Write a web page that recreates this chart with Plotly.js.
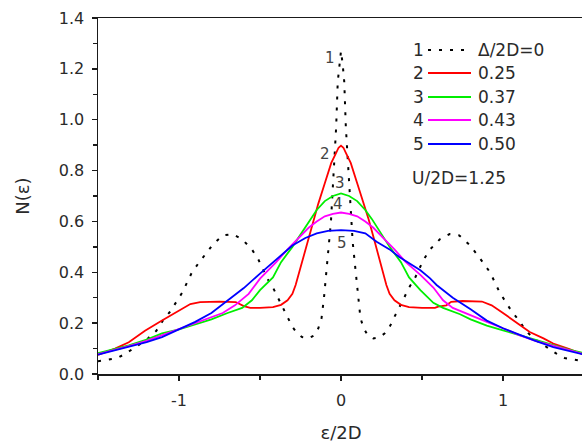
<!DOCTYPE html>
<html>
<head>
<meta charset="utf-8">
<script src="https://cdn.plot.ly/plotly-3.0.1.min.js"></script>
<style>
  html, body { margin: 0; padding: 0; overflow: hidden; background: #fff; }
  #chart { width: 586px; height: 445px; }
</style>
</head>
<body>
<div id="chart"></div>
<script>
// ---- Data ----
// Curve 1: Δ/2D = 0 (dotted black)
const x1 = [-1.5,-1.44,-1.38,-1.33,-1.27,-1.2,-1.14,-1.1,-1.055,-1.02,-0.98,-0.95,-0.92,-0.88,-0.84,-0.79,-0.73,-0.67,-0.61,-0.55,-0.51,-0.455,-0.42,-0.39,-0.36,-0.33,-0.3,-0.27,-0.24,-0.2,-0.165,-0.14,-0.12,-0.105,-0.095,-0.083,-0.072,-0.062,-0.05,-0.04,-0.03,-0.02,-0.01,0,
            0.01,0.02,0.03,0.04,0.05,0.062,0.072,0.083,0.095,0.105,0.12,0.14,0.165,0.2,0.24,0.27,0.3,0.33,0.36,0.39,0.42,0.455,0.51,0.55,0.61,0.67,0.73,0.79,0.84,0.88,0.92,0.95,0.98,1.02,1.055,1.1,1.14,1.2,1.27,1.33,1.38,1.44,1.5];
const y1 = [0.05,0.055,0.063,0.08,0.105,0.135,0.17,0.21,0.245,0.28,0.32,0.36,0.40,0.435,0.47,0.51,0.545,0.55,0.53,0.49,0.45,0.375,0.34,0.30,0.26,0.225,0.185,0.16,0.145,0.14,0.152,0.18,0.22,0.30,0.37,0.45,0.52,0.60,0.74,0.85,0.97,1.15,1.22,1.27,
            1.22,1.15,0.97,0.85,0.74,0.60,0.52,0.45,0.37,0.30,0.22,0.18,0.152,0.14,0.145,0.16,0.185,0.225,0.26,0.30,0.34,0.375,0.45,0.49,0.53,0.55,0.545,0.51,0.47,0.435,0.40,0.36,0.32,0.28,0.245,0.21,0.17,0.135,0.105,0.08,0.063,0.055,0.05];

// Curve 2: Δ/2D = 0.25 (red)
const x2 = [-1.5,-1.395,-1.31,-1.21,-1.105,-1.0,-0.93,-0.87,-0.75,-0.65,-0.6,-0.56,-0.5,-0.42,-0.37,-0.33,-0.3,-0.28,-0.25,-0.23,-0.2,-0.17,-0.14,-0.1,-0.06,-0.03,-0.015,0,
            0.015,0.03,0.06,0.1,0.14,0.17,0.2,0.23,0.25,0.28,0.3,0.33,0.37,0.42,0.5,0.58,0.6,0.65,0.68,0.75,0.87,0.93,1.0,1.085,1.165,1.25,1.31,1.41,1.5];
const y2 = [0.075,0.10,0.125,0.17,0.21,0.25,0.275,0.283,0.285,0.283,0.267,0.26,0.26,0.263,0.272,0.29,0.315,0.35,0.42,0.47,0.54,0.61,0.67,0.75,0.83,0.87,0.89,0.898,
            0.89,0.87,0.83,0.75,0.67,0.61,0.54,0.47,0.42,0.35,0.315,0.29,0.272,0.263,0.26,0.26,0.265,0.27,0.284,0.287,0.285,0.27,0.24,0.20,0.165,0.14,0.12,0.098,0.075];

// Curve 3: Δ/2D = 0.37 (green)
const x3 = [-1.5,-1.4,-1.31,-1.2,-1.105,-1.0,-0.92,-0.8,-0.7,-0.61,-0.55,-0.5,-0.42,-0.37,-0.3,-0.23,-0.19,-0.15,-0.1,-0.05,0,
            0.05,0.1,0.15,0.19,0.23,0.3,0.37,0.42,0.49,0.57,0.63,0.735,0.8,0.9,1.0,1.1,1.2,1.31,1.4,1.5];
const y3 = [0.082,0.097,0.113,0.135,0.16,0.175,0.19,0.215,0.24,0.26,0.29,0.33,0.38,0.44,0.50,0.57,0.61,0.645,0.68,0.70,0.71,
            0.70,0.68,0.645,0.61,0.57,0.50,0.44,0.38,0.33,0.28,0.26,0.235,0.215,0.19,0.172,0.153,0.133,0.113,0.097,0.082];

// Curve 4: Δ/2D = 0.43 (magenta)
const x4 = [-1.5,-1.4,-1.31,-1.2,-1.1,-1.0,-0.9,-0.8,-0.73,-0.655,-0.57,-0.5,-0.4,-0.33,-0.26,-0.2,-0.15,-0.1,-0.05,0,
            0.05,0.1,0.15,0.2,0.26,0.33,0.4,0.49,0.57,0.63,0.69,0.8,0.9,1.0,1.1,1.2,1.31,1.4,1.5];
const y4 = [0.078,0.094,0.11,0.13,0.153,0.178,0.20,0.225,0.24,0.27,0.315,0.375,0.44,0.49,0.535,0.575,0.60,0.62,0.63,0.635,
            0.63,0.62,0.60,0.575,0.535,0.49,0.44,0.39,0.34,0.29,0.26,0.23,0.205,0.18,0.153,0.13,0.11,0.094,0.078];

// Curve 5: Δ/2D = 0.50 (blue)
const x5 = [-1.5,-1.4,-1.31,-1.2,-1.105,-1.0,-0.9,-0.8,-0.7,-0.6,-0.5,-0.4,-0.3,-0.22,-0.15,-0.08,0,
            0.08,0.15,0.22,0.3,0.36,0.43,0.49,0.55,0.59,0.69,0.8,0.9,1.0,1.1,1.2,1.31,1.4,1.5];
const y5 = [0.076,0.092,0.105,0.125,0.145,0.175,0.205,0.24,0.29,0.338,0.395,0.45,0.505,0.535,0.553,0.563,0.566,
            0.563,0.553,0.52,0.49,0.46,0.432,0.408,0.376,0.35,0.30,0.255,0.21,0.18,0.155,0.13,0.106,0.092,0.076];

const curveNumbers = ['1','2','3','4','5'];
const deltaLabels = ['\u0394/2D=0','0.25','0.37','0.43','0.50'];
const paramText = 'U/2D=1.25';
const xTickVals = [-1, 0, 1];
const xTickText = ['-1', '0', '1'];
const yTickVals = [0.0, 0.2, 0.4, 0.6, 0.8, 1.0, 1.2, 1.4];
const yTickText = ['0.0','0.2','0.4','0.6','0.8','1.0','1.2','1.4'];

// ---- Styles ----
const colors = ['#000000', '#ff0000', '#00ee00', '#ff00ff', '#0000ff'];
const xs = [x1, x2, x3, x4, x5];
const ys = [y1, y2, y3, y4, y5];
const FONT = '"DejaVu Sans", Verdana, sans-serif';
const TXT = '#2a2a2a';
const dotLine = {color: '#000000', width: 2, dash: '3px,8px'};

const traces = xs.map((xv, i) => ({
  x: xv, y: ys[i], type: 'scatter', mode: 'lines',
  line: i === 0 ? dotLine : {color: colors[i], width: 1.8},
  hoverinfo: 'skip', showlegend: false
}));

// curve number labels (data coords)
const numPos = [[-0.068, 1.243], [-0.10, 0.867], [-0.004, 0.75], [-0.018, 0.667], [0.008, 0.515]];
const annotations = numPos.map((p, i) => ({
  x: p[0], y: p[1], xref: 'x', yref: 'y', text: curveNumbers[i], showarrow: false,
  font: {family: FONT, size: 15, color: '#444'}
}));

// manual legend (paper coords)
const L = 98, T = 18, W = 486, H = 356, B = 374;
const px = v => (v - L) / W;
const py = v => (B - v) / H;
const rowY = [50, 73, 97, 120, 144];
const shapes = [];
rowY.forEach((ry, i) => {
  annotations.push({x: px(418), y: py(ry), xref: 'paper', yref: 'paper', text: curveNumbers[i],
    showarrow: false, xanchor: 'center', yanchor: 'middle', font: {family: FONT, size: 17, color: TXT}});
  annotations.push({x: px(476), y: py(ry), xref: 'paper', yref: 'paper', text: deltaLabels[i],
    showarrow: false, xanchor: 'left', yanchor: 'middle', font: {family: FONT, size: 17, color: TXT}});
  shapes.push({type: 'line', xref: 'paper', yref: 'paper', x0: px(428), x1: px(471), y0: py(ry), y1: py(ry),
    line: i === 0 ? dotLine : {color: colors[i], width: 1.8}});
});
annotations.push({x: px(410), y: py(178), xref: 'paper', yref: 'paper', text: paramText,
  showarrow: false, xanchor: 'left', yanchor: 'middle', font: {family: FONT, size: 17, color: TXT}});

const axisCommon = {
  showgrid: false, zeroline: false, showline: true, linecolor: '#1a1a1a', linewidth: 1.5,
  mirror: true, ticks: 'outside', ticklen: 5, tickwidth: 1.5, tickcolor: '#1a1a1a',
  tickfont: {family: FONT, size: 16, color: TXT}
};

const layout = {
  width: 586, height: 445,
  margin: {l: L, r: 586 - L - W, t: T, b: 445 - B},
  paper_bgcolor: '#ffffff', plot_bgcolor: '#ffffff',
  xaxis: Object.assign({}, axisCommon, {
    range: [-1.5, 1.5], tickmode: 'array', tickvals: xTickVals, ticktext: xTickText,
    ticklabelstandoff: 6,
    minor: {dtick: 0.5, tick0: 0, ticks: 'outside', ticklen: 4, tickwidth: 1.5, tickcolor: '#1a1a1a'},
    title: {text: '\u03b5/2D', font: {family: FONT, size: 18, color: TXT}, standoff: 17}
  }),
  yaxis: Object.assign({}, axisCommon, {
    range: [0, 1.4], tickmode: 'array', tickvals: yTickVals, ticktext: yTickText,
    ticklabelstandoff: 4,
    minor: {dtick: 0.1, tick0: 0, ticks: 'outside', ticklen: 4, tickwidth: 1.5, tickcolor: '#1a1a1a'},
    title: {text: 'N(\u03b5)', font: {family: FONT, size: 18, color: TXT}, standoff: 24}
  }),
  annotations: annotations,
  shapes: shapes,
  showlegend: false
};

Plotly.newPlot('chart', traces, layout, {displayModeBar: false, staticPlot: true});
</script>
</body>
</html>
